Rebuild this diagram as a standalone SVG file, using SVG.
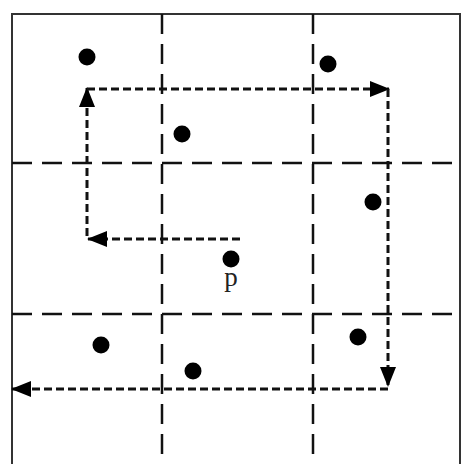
<svg xmlns="http://www.w3.org/2000/svg" width="461" height="464" viewBox="0 0 461 464">
<defs>
<style>
.border{fill:none;stroke:#333;stroke-width:2}
.grid{fill:none;stroke:#111;stroke-width:2.5;stroke-dasharray:20 10}
.path{fill:none;stroke:#111;stroke-width:3;stroke-dasharray:8 4}
.pt{fill:#000}
.lbl{font-family:"Liberation Serif",serif;font-size:27px;fill:#222;text-anchor:middle}
</style>
<marker id="ah" markerWidth="20" markerHeight="16" viewBox="0 0 20 16" refX="19" refY="8" orient="auto" markerUnits="userSpaceOnUse">
<path d="M0,0 L20,8 L0,16 Z" fill="#000"/>
</marker>
</defs>
<rect width="461" height="464" fill="#fff"/>
<path class="border" d="M12,464 V14 H460 V464"/>
<g id="grid">
<line class="grid" x1="162" y1="14" x2="162" y2="464"/>
<line class="grid" x1="313" y1="14" x2="313" y2="464"/>
<line class="grid" x1="12" y1="163" x2="461" y2="163"/>
<line class="grid" x1="12" y1="314" x2="461" y2="314"/>
</g>
<g id="connectors">
<line class="path" x1="240" y1="239" x2="88" y2="239" marker-end="url(#ah)"/>
<line class="path" x1="87" y1="236" x2="87" y2="88" marker-end="url(#ah)"/>
<line class="path" x1="87" y1="89" x2="389" y2="89" marker-end="url(#ah)"/>
<line class="path" x1="388" y1="89" x2="388" y2="386" marker-end="url(#ah)"/>
<line class="path" x1="388" y1="389" x2="12" y2="389" marker-end="url(#ah)"/>
</g>
<g id="point-1"><circle class="pt" cx="87" cy="57" r="8.5"/></g>
<g id="point-2"><circle class="pt" cx="328" cy="64" r="8.5"/></g>
<g id="point-3"><circle class="pt" cx="182" cy="134" r="8.5"/></g>
<g id="point-4"><circle class="pt" cx="373" cy="202" r="8.5"/></g>
<g id="point-p"><circle class="pt" cx="231" cy="259" r="8.5"/><text class="lbl" x="231" y="286">p</text></g>
<g id="point-5"><circle class="pt" cx="101" cy="345" r="8.5"/></g>
<g id="point-6"><circle class="pt" cx="358" cy="337" r="8.5"/></g>
<g id="point-7"><circle class="pt" cx="193" cy="371" r="8.5"/></g>
</svg>
